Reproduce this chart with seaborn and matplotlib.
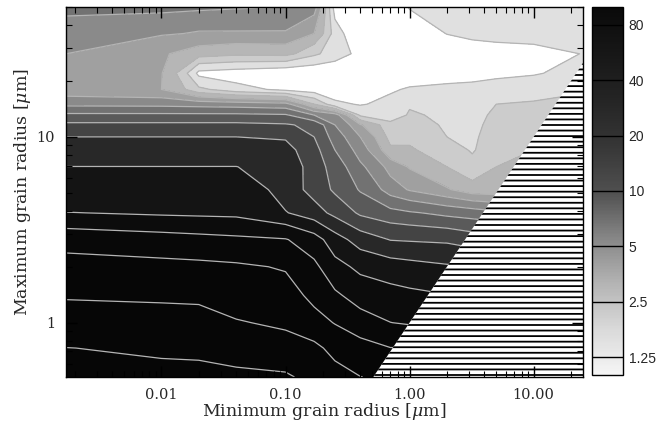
import numpy as np
import matplotlib as mpl
import matplotlib.pyplot as plt
plt.switch_backend('Agg')
import seaborn as sns
from matplotlib.colors import LogNorm
from matplotlib.ticker import NullFormatter

# grid of the map: minimum grain radius (columns) and maximum grain radius (rows), in micron
x_min = [0.0017, 0.01, 0.02, 0.04, 0.1, 0.17, 0.25, 0.4, 0.7, 1.0, 2.0, 3.2, 5.0, 10.0, 25.0]
y_max = [0.51, 0.73, 1.0, 1.4, 2.0, 2.8, 3.9, 5.2, 6.9, 8.5, 10.0, 11.6, 13.1, 15.0, 18.0, 22.0, 28.0, 36.0, 50.0]

# mapped quantity, one row per y_max value (bottom row first)
ratio = [
    [197, 178, 175, 169, 166, 144, 126, 113.5, 106, 106, 106, 106, 106, 106, 106],
    [160.5, 149, 148, 141, 129, 121, 102, 90.3, 80.5, 80.5, 80.5, 80.5, 80.5, 80.5, 80.5],
    [134, 128, 126, 115, 106, 90.3, 78.6, 65.0, 56.8, 54.6, 52.8, 52.8, 52.8, 52.8, 52.8],
    [109, 107, 106, 98.5, 91.9, 72.1, 59.6, 48.6, 44.9, 42.9, 40.5, 40.5, 40.5, 40.5, 40.5],
    [90.3, 87.2, 85.7, 83.4, 77.3, 60.6, 44.4, 36.7, 32.8, 31.4, 29.3, 28.5, 28.5, 28.5, 28.5],
    [69.6, 64.3, 62.1, 60.0, 57.6, 46.0, 32.5, 23.8, 19.7, 19.3, 18.7, 16.8, 16.8, 16.8, 16.8],
    [40.2, 38.0, 37.3, 36.7, 28.8, 23.0, 18.0, 13.2, 11.1, 10.35, 9.01, 8.41, 7.58, 7.07, 7.07],
    [33.6, 33.6, 34.2, 34.8, 23.8, 17.4, 13.2, 9.66, 5.95, 4.83, 3.66, 2.87, 2.77, 3.30, 3.79],
    [28.4, 28.4, 28.4, 28.4, 24.6, 16.8, 11.9, 7.58, 4.35, 3.42, 2.5, 1.96, 2.5, 2.77, 3.30],
    [23.2, 23.4, 23.4, 23.8, 22.2, 15.7, 10.0, 5.95, 2.68, 2.59, 2.03, 1.71, 2.33, 2.5, 2.97],
    [20.0, 20.0, 20.0, 20.0, 19.3, 14.1, 8.41, 5.0, 2.18, 2.33, 1.77, 1.65, 2.25, 2.33, 2.68],
    [15.2, 15.2, 15.2, 15.2, 14.6, 12.75, 7.07, 3.66, 1.90, 2.10, 1.65, 1.59, 2.10, 2.18, 2.5],
    [10.7, 10.7, 10.7, 10.7, 10.35, 7.07, 5.95, 1.65, 1.54, 1.83, 1.65, 1.54, 1.96, 2.03, 2.33],
    [6.48, 6.37, 6.16, 5.95, 5.55, 2.5, 1.34, 1.21, 1.44, 1.71, 1.59, 1.65, 1.77, 1.83, 2.10],
    [3.92, 3.54, 1.90, 1.39, 1.13, 1.02, 1.02, 1.05, 1.17, 1.34, 1.49, 1.54, 1.59, 1.54, 1.65],
    [4.20, 3.60, 1.13, 1.05, 0.95, 0.95, 1.02, 0.95, 0.88, 0.83, 0.88, 0.95, 1.09, 1.21, 1.54],
    [5.0, 3.66, 2.97, 2.68, 2.77, 1.90, 1.44, 1.13, 0.83, 0.83, 0.88, 0.95, 1.02, 1.09, 1.27],
    [5.95, 5.18, 4.83, 4.83, 4.83, 3.54, 1.49, 0.83, 0.83, 0.95, 1.27, 1.44, 1.49, 1.49, 1.34],
    [7.85, 7.85, 7.58, 7.32, 7.07, 5.95, 1.05, 0.88, 0.95, 1.29, 1.54, 1.59, 1.59, 1.54, 1.39],
]

band_levels = [0.1, 1.25, 1.77, 2.5, 3.54, 5, 7.07, 10, 14.1, 20, 28.3, 40, 56.6, 80, 1000]
band_colors = ["#ffffff", "#e0e0e0", "#cccccc", "#b6b6b6", "#a0a0a0", "#8a8a8a", "#727272",
               "#5a5a5a", "#444444", "#282828", "#141414", "#0c0c0c", "#080808", "#060606"]
line_levels = [1.25, 1.77, 2.5, 3.54, 5, 7.07, 10, 14.1, 20, 28.3, 40, 56.6, 80, 113, 160]

cbar_ticks = [1.25, 2.5, 5, 10, 20, 40, 80]
cbar_labels = ["1.25", "2.5", "5", "10", "20", "40", "80"]
cbar_grays = ["#f5f5f5", "#d9d9d9", "#b3b3b3", "#858585", "#4f4f4f", "#363636", "#242424", "#171717", "#0a0a0a"]

sns.set_style("ticks")
plt.rcParams['font.family'] = ['DejaVu Serif']
plt.rcParams['mathtext.fontset'] = 'dejavuserif'
plt.rcParams['hatch.linewidth'] = 1.3

fig = plt.figure(figsize=(6.71, 4.25), dpi=100)
ax = fig.add_axes([66/671, 1 - 377/425, (583 - 66)/671, (377 - 7)/425])
cax = fig.add_axes([592/671, 1 - 375/425, 31/671, (375 - 7)/425])

X, Y = np.meshgrid(x_min, y_max)
logZ = np.log10(np.array(ratio))
ax.contourf(X, Y, logZ, levels=np.log10(band_levels), colors=band_colors, zorder=1)
ax.contour(X, Y, logZ, levels=np.log10(line_levels), colors="#b4b4b4", linewidths=0.9, zorder=1.5)

ax.set_xscale('log')
ax.set_yscale('log')
ax.set_xlim(x_min[0], x_min[-1])
ax.set_ylim(y_max[0], y_max[-1])

# region where minimum radius exceeds maximum radius: hatched
lo, hi = y_max[0], x_min[-1]
ax.add_patch(plt.Polygon([(lo, lo), (hi, hi), (hi, lo)], closed=True, facecolor='white',
                         edgecolor='black', hatch='---', linewidth=0, zorder=2))

ax.set_axisbelow(False)
ax.set_xticks([0.01, 0.1, 1, 10], ['0.01', '0.10', '1.00', '10.00'])
ax.set_yticks([1, 10], ['1', '10'])
ax.xaxis.set_minor_formatter(NullFormatter())
ax.yaxis.set_minor_formatter(NullFormatter())
ax.tick_params(which='both', direction='in', top=True, right=True, color='black')
ax.tick_params(which='major', length=8, width=1, labelsize=10.5, pad=8)
ax.tick_params(which='minor', length=4, width=0.8)
for s in ax.spines.values():
    s.set_linewidth(1.0)
    s.set_color('black')

ax.set_xlabel('Minimum grain radius [$\\mu$m]', fontsize=12.5)
ax.set_ylabel('Maximum grain radius [$\\mu$m]', fontsize=12.5)
ax.xaxis.set_label_coords(0.5, -0.064)
ax.yaxis.set_label_coords(-0.063, 0.5)

cmap = sns.blend_palette(cbar_grays, as_cmap=True)
sm = mpl.cm.ScalarMappable(norm=LogNorm(1, 100), cmap=cmap)
cb = fig.colorbar(sm, cax=cax)
cb.set_ticks(cbar_ticks, labels=cbar_labels)
cb.minorticks_off()
cax.tick_params(length=0, labelsize=10, pad=4)
for t in cax.get_yticklabels():
    t.set_family('Liberation Sans')
for v in cbar_ticks:
    cax.axhline(v, color='black', linewidth=1)
cb.outline.set_linewidth(1)
cb.outline.set_edgecolor('black')

fig.savefig('out.png', dpi=100)
